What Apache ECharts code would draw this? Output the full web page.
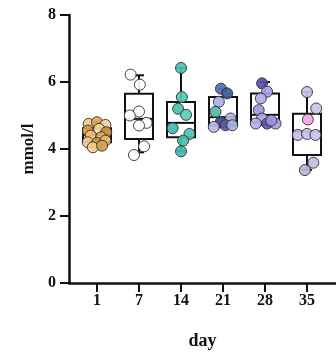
<!DOCTYPE html>
<html>
<head>
<meta charset="utf-8">
<script src="https://cdn.jsdelivr.net/npm/echarts@6/dist/echarts.min.js"></script>
<style>html,body{margin:0;padding:0;background:#fff;}#c{width:336px;height:359px;}</style>
</head>
<body>
<div id="c"></div>
<script>
// ---- data ----
const days = ['1', '7', '14', '21', '28', '35'];
const yTicks = [0, 2, 4, 6, 8];
const boxLow  = [4.05, 3.90, 3.93, 4.65, 4.72, 3.38];
const boxQ1   = [4.20, 4.30, 4.35, 4.70, 4.80, 3.82];
const boxMed  = [4.42, 4.90, 4.78, 4.95, 5.02, 4.52];
const boxQ3   = [4.62, 5.65, 5.40, 5.55, 5.66, 5.05];
const boxHigh = [4.80, 6.20, 6.42, 5.80, 6.00, 5.70];

// individual points per day (values) and horizontal jitter (category units)
const pts1  = [4.75, 4.80, 4.72, 4.55, 4.60, 4.50, 4.40, 4.35, 4.20, 4.18, 4.25, 4.05, 4.10];
const jit1  = [-0.20, 0.00, 0.20, -0.22, 0.05, 0.22, -0.15, 0.10, -0.22, 0.00, 0.20, -0.10, 0.12];
const pts7  = [6.22, 5.92, 5.12, 5.00, 4.78, 4.70, 4.08, 3.82];
const jit7  = [-0.20, 0.02, 0.00, -0.22, 0.18, 0.00, 0.12, -0.12];
const pts14 = [6.42, 5.55, 5.20, 5.02, 4.62, 4.45, 4.25, 3.93];
const jit14 = [0.00, 0.02, -0.07, 0.12, -0.20, 0.20, 0.05, 0.00];
const pts21 = [5.80, 5.66, 5.41, 5.11, 4.91, 4.81, 4.66, 4.71, 4.71];
const jit21 = [-0.05, 0.10, -0.10, -0.18, 0.18, -0.05, -0.22, 0.06, 0.22];
const pts28 = [5.96, 5.71, 5.51, 5.16, 4.91, 4.76, 4.76, 4.76, 4.85];
const jit28 = [-0.07, 0.05, -0.10, -0.15, -0.07, -0.22, 0.05, 0.25, 0.15];
const pts35 = [5.70, 5.21, 4.88, 4.42, 4.45, 4.42, 3.59, 3.37];
const jit35 = [0.00, 0.22, 0.02, -0.22, 0.00, 0.20, 0.15, -0.05];

const allPts = [pts1, pts7, pts14, pts21, pts28, pts35];
const allJit = [jit1, jit7, jit14, jit21, jit28, jit35];

// ---- styles ----
const pointColors = [
  ['#f2c890', '#e8a850', '#f0d098', '#d89840', '#f4d8a0', '#c89038', '#f0c070', '#e0b060', '#f2c890', '#c8a040', '#e8b868', '#f4cc90', '#d8a050'],
  ['#ffffff', '#ffffff', '#ffffff', '#ffffff', '#ffffff', '#ffffff', '#ffffff', '#ffffff'],
  ['#48c4b4', '#50c8b8', '#48c0b0', '#58ccbc', '#40bcac', '#50c4b4', '#48c0b0', '#40bcac'],
  ['#5070b8', '#3a5a98', '#a8b0e8', '#50b8a8', '#b0b4e8', '#3a4888', '#b4b8ec', '#5a5ca8', '#a8b0e4'],
  ['#5050b0', '#a8a4e8', '#b0acec', '#9c98e0', '#a8a4e8', '#b4b0f0', '#5a58b8', '#a8a4e8', '#9894dc'],
  ['#c8c4e8', '#c8c4e8', '#f0a8d8', '#d0b8e8', '#c8c0ec', '#c8c4e8', '#c0bce4', '#b8b8e0']
];
const FONT = 'Liberation Serif';
const TICK_LEN = 9;
const X_MIN = -0.667;

const boxData = days.map((d, i) => [i, boxLow[i], boxQ1[i], boxMed[i], boxQ3[i], boxHigh[i]]);

const scatterSeries = allPts.map((vals, di) => ({
  type: 'scatter',
  symbolSize: 11,
  data: vals.map((v, k) => ({
    value: [di + allJit[di][k], v],
    itemStyle: { color: pointColors[di][k % pointColors[di].length] }
  })),
  itemStyle: { borderColor: '#333', borderWidth: 1, opacity: 0.92 }
}));

const chart = echarts.init(document.getElementById('c'), null, { renderer: 'canvas' });
chart.setOption({
  backgroundColor: '#fff',
  animation: false,
  grid: { left: 69, right: 0, top: 15, bottom: 76 },
  xAxis: {
    type: 'value',
    min: X_MIN,
    max: 5.69,
    splitLine: { show: false },
    axisLine: { onZero: false, lineStyle: { color: '#111', width: 2.5 } },
    axisTick: { show: true, customValues: [0, 1, 2, 3, 4, 5], length: TICK_LEN, lineStyle: { color: '#111', width: 2 } },
    axisLabel: {
      customValues: [0, 1, 2, 3, 4, 5],
      formatter: v => days[Math.round(v)],
      fontFamily: FONT, fontWeight: 'bold', fontSize: 16, color: '#111', margin: 10
    },
    name: 'day',
    nameLocation: 'middle',
    nameGap: 49,
    nameTextStyle: { fontFamily: FONT, fontWeight: 'bold', fontSize: 18, color: '#111' }
  },
  yAxis: {
    type: 'value',
    min: 0,
    max: 8,
    interval: 2,
    position: 'left',
    z: 50,
    splitLine: { show: false },
    axisLine: { show: true, onZero: false, lineStyle: { color: '#111', width: 2.5 } },
    axisTick: { show: true, length: TICK_LEN, lineStyle: { color: '#111', width: 2 } },
    axisLabel: {
      fontFamily: FONT, fontWeight: 'bold', fontSize: 16, color: '#111', margin: 13
    },
    name: 'mmol/l',
    nameLocation: 'middle',
    nameGap: 32,
    nameTextStyle: { fontFamily: FONT, fontWeight: 'bold', fontSize: 17, color: '#111' }
  },
  series: [
    {
      type: 'custom',
      data: boxData,
      renderItem: function (params, api) {
        const i = api.value(0);
        const pLow = api.coord([i, api.value(1)]);
        const pQ1 = api.coord([i, api.value(2)]);
        const pMed = api.coord([i, api.value(3)]);
        const pQ3 = api.coord([i, api.value(4)]);
        const pHigh = api.coord([i, api.value(5)]);
        const hw = 14, cw = 5;
        const x = pQ1[0];
        const st = { stroke: '#111', lineWidth: 2, fill: null };
        return {
          type: 'group',
          children: [
            { type: 'line', shape: { x1: x, y1: pQ3[1], x2: x, y2: pHigh[1] }, style: st },
            { type: 'line', shape: { x1: x, y1: pQ1[1], x2: x, y2: pLow[1] }, style: st },
            { type: 'line', shape: { x1: x - cw, y1: pHigh[1], x2: x + cw, y2: pHigh[1] }, style: st },
            { type: 'line', shape: { x1: x - cw, y1: pLow[1], x2: x + cw, y2: pLow[1] }, style: st },
            { type: 'rect', shape: { x: x - hw, y: pQ3[1], width: 2 * hw, height: pQ1[1] - pQ3[1] }, style: { stroke: '#111', lineWidth: 2, fill: 'rgba(255,255,255,0)' } },
            { type: 'line', shape: { x1: x - hw, y1: pMed[1], x2: x + hw, y2: pMed[1] }, style: st }
          ]
        };
      }
    }
  ].concat(scatterSeries)
});

// y-axis tick marks placed through the chart's own scale (pixel positions from convertToPixel)
const tickGraphics = yTicks.map(v => {
  const p = chart.convertToPixel({ gridIndex: 0 }, [X_MIN, v]);
  return {
    type: 'line',
    z: 100,
    silent: true,
    shape: { x1: p[0] - TICK_LEN, y1: p[1], x2: p[0], y2: p[1] },
    style: { stroke: '#111', lineWidth: 2 }
  };
});
chart.setOption({ graphic: tickGraphics });
</script>
</body>
</html>
